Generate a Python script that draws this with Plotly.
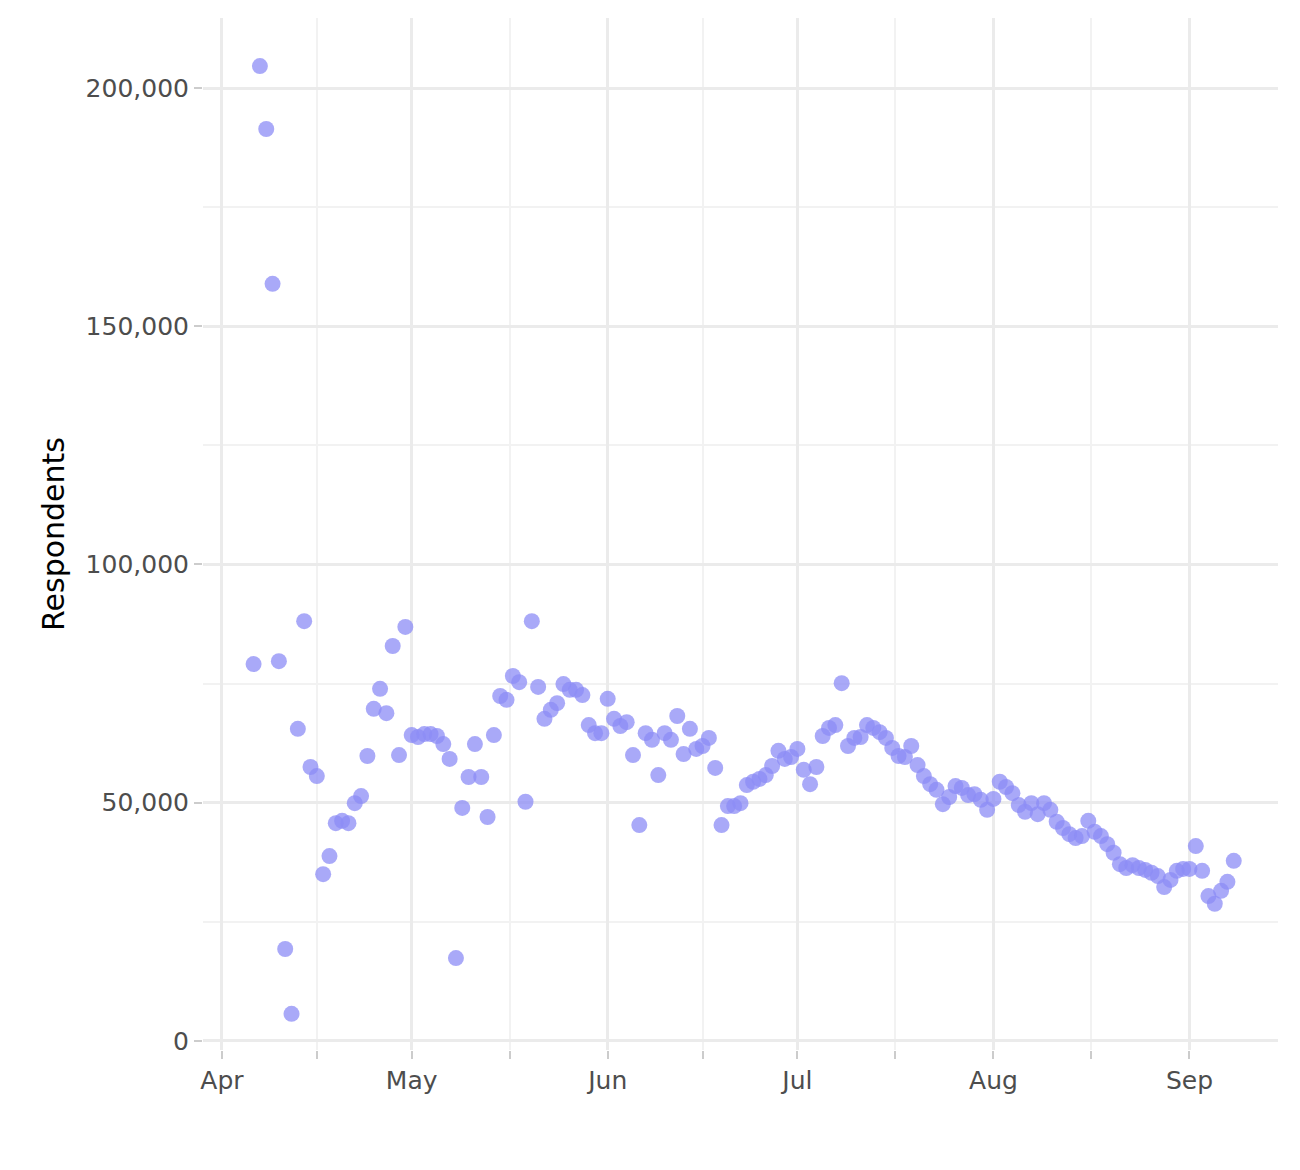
import pandas as pd
import plotly.graph_objects as go

start_date = "2020-04-06"
respondents = [
    79100, 204600, 191400, 158900, 79700, 19300, 5700, 65500, 88100, 57500,
    55600, 35000, 38800, 45700, 46200, 45700, 49900, 51400, 59800, 69700,
    73900, 68800, 82900, 60000, 86900, 64200, 63800, 64400, 64400, 64000,
    62300, 59200, 17400, 48900, 55400, 62300, 55400, 47000, 64200, 72400,
    71600, 76600, 75300, 50200, 88100, 74300, 67600, 69500, 70900, 74900,
    73700, 73700, 72600, 66300, 64600, 64600, 71800, 67600, 66100, 66900,
    60000, 45300, 64600, 63200, 55800, 64600, 63200, 68200, 60200, 65500,
    61300, 61900, 63600, 57300, 45300, 49300, 49300, 49900, 53700, 54400,
    55000, 55800, 57700, 60900, 59200, 59600, 61300, 56900, 53900, 57500,
    64000, 65700, 66300, 75100, 61900, 63600, 63800, 66300, 65700, 64800,
    63600, 61500, 59800, 59600, 61900, 57900, 55600, 53900, 52700, 49700,
    51200, 53500, 53100, 51600, 51800, 50600, 48500, 50800, 54400, 53300,
    52000, 49500, 48100, 49900, 47600, 49900, 48500, 46000, 44700, 43400,
    42600, 43000, 46200, 43900, 43000, 41300, 39500, 37100, 36300, 36900,
    36300, 35900, 35300, 34600, 32300, 33800, 35700, 36100, 36100, 40900,
    35700, 30400, 28800, 31500, 33400, 37800,
]
dates = pd.date_range(start_date, periods=len(respondents), freq="D")

month_ticks = ["2020-04-01", "2020-05-01", "2020-06-01", "2020-07-01", "2020-08-01", "2020-09-01"]
month_labels = ["Apr", "May", "Jun", "Jul", "Aug", "Sep"]
minor_x = ["2020-04-16", "2020-05-16 12:00", "2020-06-16", "2020-07-16 12:00", "2020-08-16 12:00"]

fig = go.Figure(go.Scatter(
    x=dates, y=respondents, mode="markers",
    marker=dict(color="rgb(140,140,245)", opacity=0.75, size=16, line=dict(width=0)),
    showlegend=False,
))

grid = "#ebebeb"
fig.update_layout(
    width=1300, height=1170,
    paper_bgcolor="white", plot_bgcolor="white",
    margin=dict(l=195, r=30, t=10, b=128),
    font=dict(family="DejaVu Sans", color="#4d4d4d", size=25),
    xaxis=dict(
        range=["2020-03-29", "2020-09-15"],
        tickvals=month_ticks, ticktext=month_labels,
        showgrid=True, gridcolor=grid, gridwidth=2.5,
        ticks="outside", tickcolor="#cccccc", ticklen=8, tickwidth=2,
        minor=dict(tickvals=minor_x, showgrid=True, gridcolor="#f2f2f2", gridwidth=1.5, ticks="outside", ticklen=8, tickcolor="#cccccc"),
        zeroline=False, showline=False,
    ),
    yaxis=dict(
        range=[-1900, 214700],
        tickvals=[0, 50000, 100000, 150000, 200000],
        tickformat=",",
        showgrid=True, gridcolor=grid, gridwidth=2.5,
        ticks="outside", tickcolor="#cccccc", ticklen=8, tickwidth=2,
        minor=dict(tickvals=[25000, 75000, 125000, 175000], showgrid=True, gridcolor="#f2f2f2", gridwidth=1.5),
        zeroline=False, showline=False,
        title=dict(text="Respondents", font=dict(size=30, color="black"), standoff=12),
    ),
)

fig.write_html("out.html")
